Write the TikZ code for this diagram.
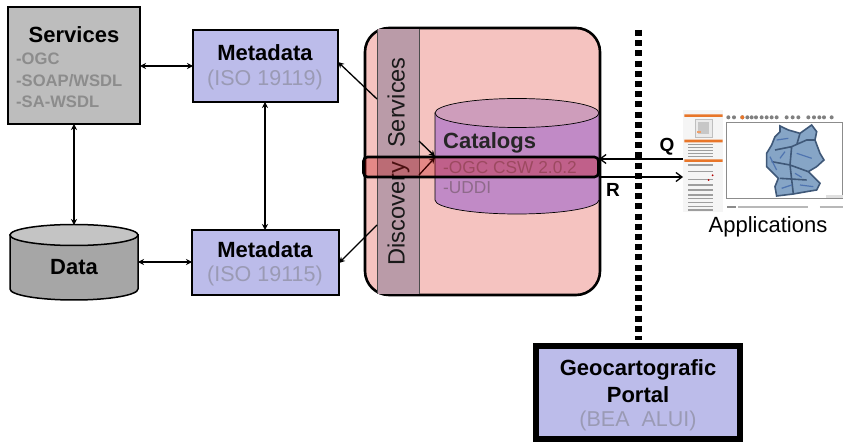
\documentclass[tikz,border=0pt]{standalone}
\usepackage{fontspec}
\setmainfont{Liberation Sans}
\usetikzlibrary{arrows.meta}
\definecolor{svcgray}{HTML}{BDBDBD}
\definecolor{metablue}{HTML}{BCBCEA}
\definecolor{datagray}{HTML}{A6A6A6}
\definecolor{datatop}{HTML}{C4C4C4}
\definecolor{bigpink}{HTML}{F5C3C0}
\definecolor{bandmauve}{HTML}{BA9BA8}
\definecolor{catbody}{HTML}{C18AC6}
\definecolor{cattop}{HTML}{CE9DBB}
\definecolor{mutedtext}{HTML}{8C8C8C}
\definecolor{mutedblue}{HTML}{9A9AB4}
\definecolor{catmuted}{HTML}{8E6A8A}
\definecolor{mapblue}{HTML}{86A5C6}
\definecolor{mapdark}{HTML}{3F5878}
\definecolor{mapline}{HTML}{4F74B0}
\definecolor{maporange}{HTML}{E8762A}
\tikzset{
  box/.style={draw=black,line width=2pt,inner sep=0pt,outer sep=0pt,anchor=north west},
  ghost/.style={inner sep=0pt,outer sep=0pt,anchor=north west},
  link/.style={line width=1.3pt,{Stealth[length=6pt,width=6pt]}-{Stealth[length=6pt,width=6pt]}},
  single/.style={line width=1.3pt,-{Stealth[length=6pt,width=6pt]}},
  open/.style={line width=1.3pt,-{Straight Barb[length=6pt,width=9pt]}},
  head/.style={font=\fontsize{22}{24}\selectfont\bfseries},
  sub/.style={font=\fontsize{21.5}{24}\selectfont,text=mutedblue},
  mini/.style={font=\fontsize{16.6}{21.5}\selectfont\bfseries,text=mutedtext,align=left,inner sep=0pt},
  cyl/.style={draw=black,line width=1pt}
}
\begin{document}
\begin{tikzpicture}[x=1pt,y=-1pt]
\useasboundingbox (0,0) rectangle (843,443);
\fill[white] (0,0) rectangle (843,443);

% Services
\node[box,fill=svcgray,minimum width=132pt,minimum height=117pt] (svc) at (8,7) {};
\node[head] (svct) at (74,35) {Services};
\node[mini,anchor=north west] (svcl) at (16,53) {-OGC\\-SOAP/WSDL\\-SA-WSDL};

% Metadata
\node[box,fill=metablue,minimum width=145pt,minimum height=72pt] (mtop) at (193,30) {};
\node[head] (mtopt) at (265,53) {Metadata};
\node[sub] (mtops) at (265,80) {(ISO 19119)};
\node[box,fill=metablue,minimum width=147pt,minimum height=65pt] (mbot) at (192,230) {};
\node[head] (mbott) at (265,250) {Metadata};
\node[sub] (mbots) at (265,276) {(ISO 19115)};

% Data cylinder
\node[ghost,minimum width=128pt,minimum height=75pt] (data) at (10,225) {};
\path[cyl,line width=1.5pt,fill=datagray] (10,235) -- (10,289) arc[start angle=180,end angle=0,x radius=64,y radius=11] -- (138,235) -- cycle;
\path[cyl,line width=1.5pt,fill=datatop] (74,235) ellipse[x radius=64,y radius=10.5];
\node[head] (datat) at (74,267) {Data};

% Catalog system
\node[draw=black,line width=2.6pt,outer sep=0pt,fill=bigpink,rounded corners=24pt,inner sep=0pt,anchor=north west,minimum width=235pt,minimum height=267pt] (sys) at (365,28) {};
\fill[bandmauve] (377,29.3) rectangle (419,293.7);
\draw[line width=.7pt,black!70] (377,29.3) -- (377,293.7) (419,29.3) -- (419,293.7);
\node[font=\fontsize{23.6}{26}\selectfont,rotate=90,text=black!90] (disc) at (398.5,161.5) {Discovery\,\, Services};

\node[ghost,minimum width=164pt,minimum height=116pt] (cat) at (435,98) {};
\path[cyl,line width=.7pt,fill=catbody] (435,113) -- (435,200) arc[start angle=180,end angle=0,x radius=82,y radius=14] -- (599,113) -- cycle;
\path[cyl,line width=.7pt,fill=cattop] (517,113) ellipse[x radius=82,y radius=14.5];
\node[head,anchor=west,text=black!85,inner sep=0pt] (catt) at (443,143) {Catalogs};
\node[font=\fontsize{17.3}{20}\selectfont,anchor=west,text=catmuted,inner sep=0pt] (cata) at (443,167.5) {-OGC CSW 2.0.2};
\node[font=\fontsize{17.3}{20}\selectfont,anchor=west,text=catmuted,inner sep=0pt] (catb) at (443,188) {-UDDI};

% Map
\node[ghost,minimum width=160pt,minimum height=104pt] (map) at (683,108) {};
\begin{scope}[shift={(660,90)},x=0.3333pt,y=-0.3333pt]
  \fill[black!4] (70,60) rectangle (190,365);
  \fill[maporange] (73,73) rectangle (188,81) (73,149) rectangle (188,157) (73,208) rectangle (188,216);
  \draw[black!25,fill=black!8] (105,87) rectangle (158,142);
  \fill[black!22] (115,97) rectangle (147,133);
  \fill[maporange!70] (112,122) rectangle (122,128);
  \foreach \yy in {163,172,181,190,200,225,245,268,285,300,315,326,338,350,360}
    \draw[black!38,line width=1.5pt] (85,\yy) -- (160,\yy);
  \fill[red!70!black] (158,256) circle[radius=3] (146,270) circle[radius=3];
  \draw[black!45,line width=1pt] (200,97) rectangle (549,325);
  \foreach \xx in {205,222,247,262,275,288,305,320,335,350,380,398,415,445,462,478,492,515}
    \fill[black!50] (\xx,82) circle[radius=6];
  \fill[maporange] (247,82) circle[radius=6];
  \fill[black!45] (200,348) rectangle (228,355);
  \draw[black!28,line width=2pt] (235,351) -- (445,351) (480,351) -- (549,351);
  \fill[black!12] (498,314) rectangle (549,325);
  \fill[mapblue,draw=mapdark,line width=1.6pt]
    (360,108)--(385,120)--(420,130)--(455,105)--(470,125)--(465,150)--(480,190)--(492,210)--(470,230)--(445,245)--(480,280)--(470,300)--(440,305)--(400,312)--(350,318)--(345,290)--(355,265)--(320,230)--(320,190)--(335,165)--(345,140)--(360,125)--cycle;
  \draw[mapdark,line width=1.6pt]
    (345,180)--(395,170)--(440,150)--(465,150)
    (335,215)--(390,225)--(445,245)
    (395,170)--(390,225)--(400,312)
    (360,265)--(440,270)
    (420,130)--(410,165);
  \draw[mapline,line width=1.2pt]
    (350,150)--(385,145) (360,205)--(375,185) (410,190)--(455,205)
    (405,250)--(425,262) (365,295)--(395,285) (420,285)--(460,290) (330,200)--(350,240);
\end{scope}
\node[font=\fontsize{22}{24}\selectfont] (apps) at (768,226.5) {Applications};

% Dotted separator
\coordinate (septop) at (638,30);
\coordinate (sepbot) at (638,340);
\draw[line width=7pt,dash pattern=on 6pt off 4.2pt] (septop) -- (sepbot);

% Portal
\node[box,line width=6pt,fill=metablue,minimum width=204pt,minimum height=93pt] (portal) at (536,346) {};
\node[head,align=center,font=\fontsize{22}{27}\selectfont\bfseries] (portalt) at (638,381) {Geocartografic\\Portal};
\node[sub] (portals) at (638,421) {(BEA\ \ ALUI)};

% Connectors
\draw[link] (svc.east |- 0,66) -- (mtop.west |- 0,66);
\draw[link] (svc.south -| 74,0) -- (data.north -| 74,0);
\draw[link] (mtop.south -| 265,0) -- (mbot.north -| 265,0);
\draw[link] (data.east |- 0,262) -- (mbot.west |- 0,262);
\draw[single] (377,99) -- (mtop.east |- 0,62);
\draw[single] (377,225) -- (mbot.east |- 0,263);
\draw[single] (419,141) -- (cat.west |- 0,156.5);
\draw[single] (419,175) -- (cat.west |- 0,157.5);
\draw[open] (map.west |- 0,159) -- (cat.east |- 0,159);
\draw[open] (cat.east |- 0,177) -- (map.west |- 0,177);
\node[font=\fontsize{19}{20}\selectfont\bfseries] (q) at (667,147) {Q};
\node[font=\fontsize{19}{20}\selectfont\bfseries] (r) at (613,190) {R};

% Overlay band
\node[draw=black,line width=2.6pt,outer sep=0pt,fill=red!75!black,fill opacity=.3,rounded corners=4pt,inner sep=0pt,anchor=north west,minimum width=235pt,minimum height=20pt] (band) at (363.5,157) {};
\end{tikzpicture}
\end{document}
